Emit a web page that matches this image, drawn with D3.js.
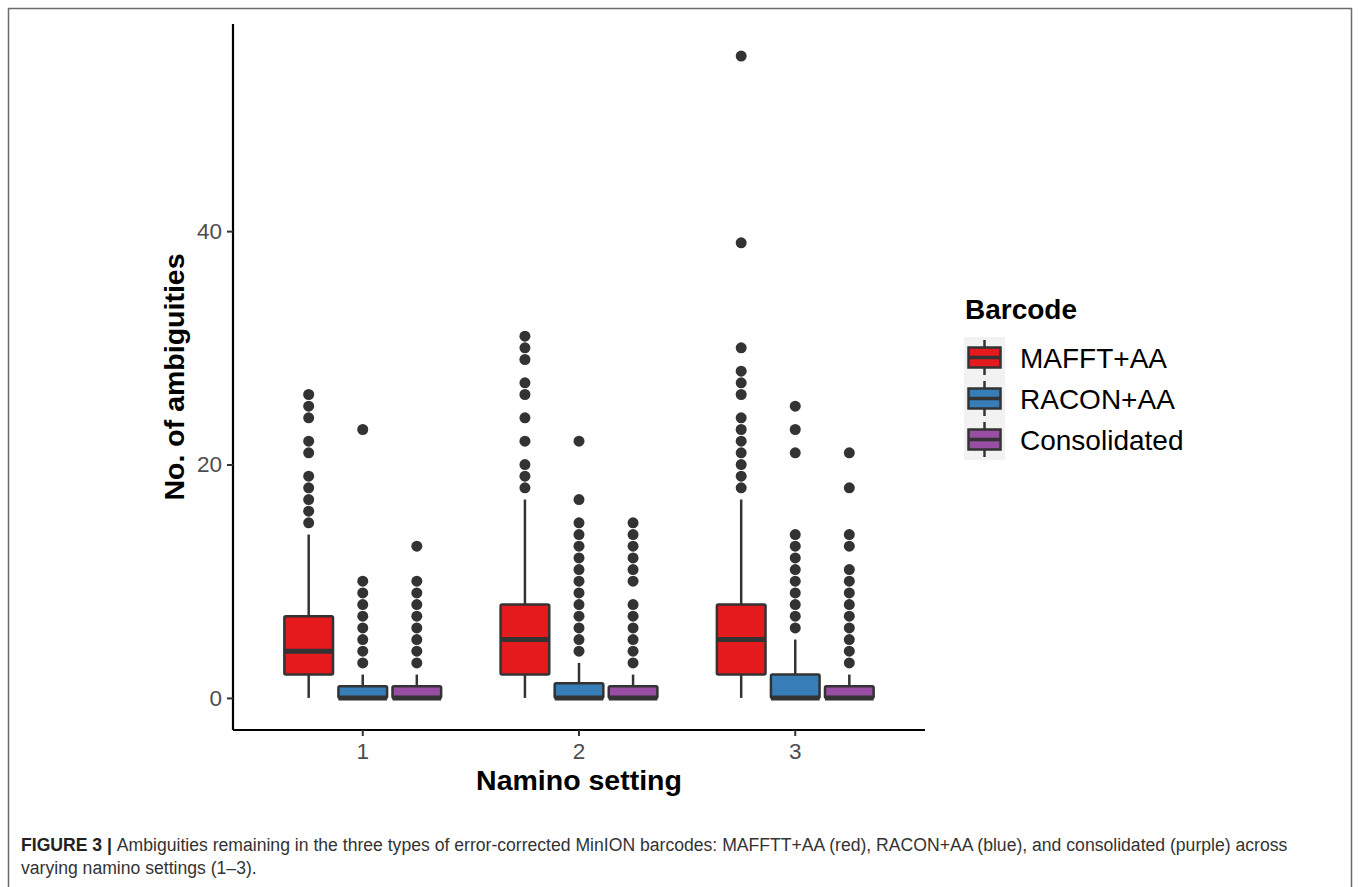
<!DOCTYPE html>
<html>
<head>
<meta charset="utf-8">
<script src="https://cdn.jsdelivr.net/npm/d3@7"></script>
<style>
  body { margin: 0; background: #fff; }
  svg { display: block; font-family: "Liberation Sans", Arial, sans-serif; }
</style>
</head>
<body>
<svg id="chart" width="1358" height="887"></svg>
<script>
// values
const settings = ["1", "2", "3"];
const barcodes = ["MAFFT+AA", "RACON+AA", "Consolidated"];
const yTicks = [0, 20, 40];

// per setting: [lower whisker, q1, median, q3, upper whisker]
const mafftBox = [[0, 2, 4, 7, 14], [0, 2, 5, 8, 17], [0, 2, 5, 8, 17]];
const raconBox = [[0, 0, 0, 1, 2], [0, 0, 0, 1.25, 3], [0, 0, 0, 2, 5]];
const consBox  = [[0, 0, 0, 1, 2], [0, 0, 0, 1, 2], [0, 0, 0, 1, 2]];

const mafftOut = [
  [15, 16, 17, 18, 19, 21, 22, 24, 25, 26],
  [18, 19, 20, 22, 24, 26, 27, 29, 30, 31],
  [18, 19, 20, 21, 22, 23, 24, 26, 27, 28, 30, 39, 55]
];
const raconOut = [
  [3, 4, 5, 6, 7, 8, 9, 10, 23],
  [4, 5, 6, 7, 8, 9, 10, 11, 12, 13, 14, 15, 17, 22],
  [6, 7, 8, 9, 10, 11, 12, 13, 14, 21, 23, 25]
];
const consOut = [
  [3, 4, 5, 6, 7, 8, 9, 10, 13],
  [3, 4, 5, 6, 7, 8, 10, 11, 12, 13, 14, 15],
  [3, 4, 5, 6, 7, 8, 9, 10, 11, 13, 14, 18, 21]
];

const fills = ["#E41A1C", "#377EB8", "#984EA3"];
const boxes = [mafftBox, raconBox, consBox];
const outs = [mafftOut, raconOut, consOut];

let svg = d3.select("#chart");

// figure frame
svg.append("rect")
  .attr("x", 8.5).attr("y", 8.5)
  .attr("width", 1343).attr("height", 900)
  .attr("fill", "none")
  .attr("stroke", "#6b6b6b")
  .attr("stroke-width", 1.5);

let pLeft = 233, pRight = 925, pTop = 24, pBottom = 730;

let x = d3.scaleBand()
  .domain(settings)
  .range([pLeft, pRight])
  .paddingInner(0.25)
  .paddingOuter(0.225);

let xInner = d3.scaleBand()
  .domain(barcodes)
  .range([0, x.bandwidth()])
  .paddingInner(0.1)
  .paddingOuter(0.05);

let y = d3.scaleLinear()
  .domain([-2.75, 57.75])
  .range([pBottom, pTop]);

// flatten into rows for drawing
let rows = [];
settings.forEach((s, i) => {
  barcodes.forEach((b, j) => {
    let st = boxes[j][i];
    rows.push({setting: s, barcode: b, color: fills[j],
      lo: st[0], q1: st[1], med: st[2], q3: st[3], hi: st[4], out: outs[j][i]});
  });
});

let g = svg.append("g");
let cx = d => x(d.setting) + xInner(d.barcode) + xInner.bandwidth() / 2;

// whiskers
g.selectAll("line.wup").data(rows).enter().append("line")
  .attr("x1", cx).attr("x2", cx)
  .attr("y1", d => y(d.q3)).attr("y2", d => y(d.hi))
  .attr("stroke", "#333").attr("stroke-width", 2.5);
g.selectAll("line.wlo").data(rows).enter().append("line")
  .attr("x1", cx).attr("x2", cx)
  .attr("y1", d => y(d.q1)).attr("y2", d => y(d.lo))
  .attr("stroke", "#333").attr("stroke-width", 2.5);

// boxes
g.selectAll("rect.box").data(rows).enter().append("rect")
  .attr("x", d => x(d.setting) + xInner(d.barcode))
  .attr("width", xInner.bandwidth())
  .attr("y", d => y(d.q3))
  .attr("height", d => y(d.q1) - y(d.q3))
  .attr("fill", d => d.color)
  .attr("stroke", "#333")
  .attr("stroke-width", 2.5)
  .attr("rx", 1.5);

// medians
g.selectAll("line.med").data(rows).enter().append("line")
  .attr("x1", d => x(d.setting) + xInner(d.barcode))
  .attr("x2", d => x(d.setting) + xInner(d.barcode) + xInner.bandwidth())
  .attr("y1", d => y(d.med)).attr("y2", d => y(d.med))
  .attr("stroke", "#333").attr("stroke-width", 5);

// outliers
let pts = rows.flatMap(d => d.out.map(v => ({cx: cx(d), v: v})));
g.selectAll("circle").data(pts).enter().append("circle")
  .attr("cx", d => d.cx)
  .attr("cy", d => y(d.v))
  .attr("r", 5.5)
  .attr("fill", "#333");

// axes
let axeX = d3.axisBottom(x).tickSize(6).tickSizeOuter(0).tickPadding(7);
let axeY = d3.axisLeft(y).tickValues(yTicks).tickSize(6).tickSizeOuter(0).tickPadding(5);

let gx = svg.append("g")
  .attr("transform", `translate(0,${pBottom})`)
  .call(axeX);
let gy = svg.append("g")
  .attr("transform", `translate(${pLeft},0)`)
  .call(axeY);

[gx, gy].forEach(a => {
  a.select(".domain").attr("stroke", "#000").attr("stroke-width", 2.2);
  a.selectAll(".tick line").attr("stroke", "#333").attr("stroke-width", 2);
  a.selectAll(".tick text")
    .attr("fill", "#4d4d4d")
    .style("font-size", "22.5px")
    .style("font-family", "Liberation Sans, Arial, sans-serif");
});
gx.select(".domain").attr("d", `M${pLeft},0H${pRight}`);
gy.select(".domain").attr("d", `M0,${pTop}V${pBottom}`);

// axis titles
svg.append("text")
  .attr("x", (pLeft + pRight) / 2)
  .attr("y", 790)
  .attr("text-anchor", "middle")
  .style("font-size", "28.5px")
  .style("font-weight", "bold")
  .text("Namino setting");

svg.append("text")
  .attr("transform", `translate(184,${(pTop + pBottom) / 2}) rotate(-90)`)
  .attr("text-anchor", "middle")
  .style("font-size", "28.5px")
  .style("font-weight", "bold")
  .text("No. of ambiguities");

// legend
let leg = svg.append("g").attr("transform", "translate(964,337)");
leg.append("text")
  .attr("x", 1).attr("y", -18)
  .style("font-size", "28px")
  .style("font-weight", "bold")
  .text("Barcode");

let keyH = 41;
let keys = leg.selectAll("g.key").data(barcodes).enter().append("g")
  .attr("transform", (d, i) => `translate(0,${i * keyH})`);
keys.append("rect")
  .attr("width", 41).attr("height", keyH)
  .attr("fill", "#f2f2f2");
keys.append("line")
  .attr("x1", 20.5).attr("x2", 20.5).attr("y1", 3).attr("y2", keyH - 3)
  .attr("stroke", "#333").attr("stroke-width", 2.5);
keys.append("rect")
  .attr("x", 4.5).attr("y", 10.5).attr("width", 32).attr("height", 20)
  .attr("fill", (d, i) => fills[i])
  .attr("stroke", "#333").attr("stroke-width", 2.5);
keys.append("line")
  .attr("x1", 4.5).attr("x2", 36.5).attr("y1", 20.5).attr("y2", 20.5)
  .attr("stroke", "#333").attr("stroke-width", 3.5);
keys.append("text")
  .attr("x", 56).attr("y", keyH / 2)
  .attr("dy", "0.36em")
  .style("font-size", "28px")
  .text(d => d);

// caption
let cap = svg.append("g").style("font-size", "17.6px").attr("fill", "#333");
let c1 = cap.append("text").attr("x", 21).attr("y", 851);
c1.append("tspan").style("font-weight", "bold").attr("fill", "#222").text("FIGURE 3 | ");
c1.append("tspan").text("Ambiguities remaining in the three types of error-corrected MinION barcodes: MAFFTT+AA (red), RACON+AA (blue), and consolidated (purple) across");
cap.append("text").attr("x", 21).attr("y", 874)
  .text("varying namino settings (1\u20133).");
</script>
</body>
</html>
